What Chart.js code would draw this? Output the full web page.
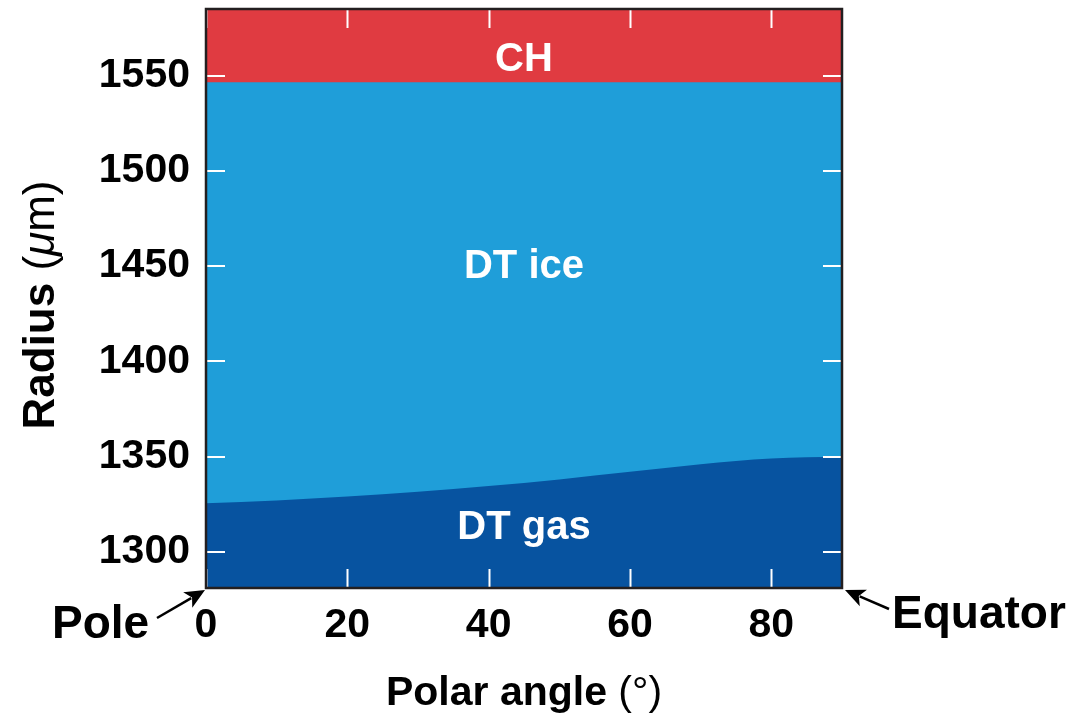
<!DOCTYPE html>
<html>
<head>
<meta charset="utf-8">
<script src="https://cdn.jsdelivr.net/npm/chart.js@4"></script>
<style>
  body { margin: 0; background: #ffffff; }
  #wrap { width: 1075px; height: 714px; position: relative; }
</style>
</head>
<body>
<div id="wrap"><canvas id="shell-chart"></canvas></div>
<script>
// polar angle (deg) and interface radii (um)
const angles = [0, 10, 20, 30, 40, 50, 60, 70, 80, 90];
const gasIceRadius = [1325.5, 1327, 1329, 1331.5, 1334.5, 1338, 1342, 1346, 1349, 1350];
const iceChRadius = [1546.5, 1546.5, 1546.5, 1546.5, 1546.5, 1546.5, 1546.5, 1546.5, 1546.5, 1546.5];
const chOuterRadius = [1590, 1590, 1590, 1590, 1590, 1590, 1590, 1590, 1590, 1590];

const xTicks = [0, 20, 40, 60, 80];
const yTicks = [1300, 1350, 1400, 1450, 1500, 1550];

const FONT = '"Liberation Sans", Arial, Helvetica, sans-serif';
const COL_CH = '#e03b41';
const COL_ICE = '#1f9ed9';
const COL_GAS = '#0753a0';

function toPoints(ys) {
    return angles.map((a, i) => ({ x: a, y: ys[i] }));
}

function layer(label, ys, color) {
    return {
        label: label,
        data: toPoints(ys),
        borderWidth: 0,
        borderColor: color,
        backgroundColor: color,
        pointRadius: 0,
        fill: 'start',
        tension: 0.4,
        cubicInterpolationMode: 'monotone'
    };
}

// 테두리, 안쪽 눈금, 글자, 화살표
const overlay = {
    id: 'overlay',
    afterDraw(chart) {
        const ctx = chart.ctx;
        const xs = chart.scales.x;
        const ys = chart.scales.y;
        const a = chart.chartArea;
        ctx.save();

        // inner white ticks on all four sides
        ctx.strokeStyle = '#ffffff';
        ctx.lineWidth = 2;
        const tl = 19;
        xTicks.forEach(v => {
            const px = Math.round(xs.getPixelForValue(v)) + 0.5;
            ctx.beginPath();
            ctx.moveTo(px, a.top); ctx.lineTo(px, a.top + tl);
            ctx.moveTo(px, a.bottom); ctx.lineTo(px, a.bottom - tl);
            ctx.stroke();
        });
        yTicks.forEach(v => {
            const py = Math.round(ys.getPixelForValue(v));
            ctx.beginPath();
            ctx.moveTo(a.left, py); ctx.lineTo(a.left + tl, py);
            ctx.moveTo(a.right, py); ctx.lineTo(a.right - tl, py);
            ctx.stroke();
        });

        // frame
        ctx.strokeStyle = '#231f20';
        ctx.lineWidth = 2.5;
        ctx.strokeRect(a.left, a.top, a.right - a.left, a.bottom - a.top);

        // region labels
        ctx.fillStyle = '#ffffff';
        ctx.font = 'bold 40px ' + FONT;
        ctx.textAlign = 'center';
        ctx.textBaseline = 'middle';
        ctx.fillText('CH', xs.getPixelForValue(45), ys.getPixelForValue(1558.5));
        ctx.fillText('DT ice', xs.getPixelForValue(45), ys.getPixelForValue(1449.3));
        ctx.fillText('DT gas', xs.getPixelForValue(45), ys.getPixelForValue(1312.3));

        // axis titles (bold word + regular unit)
        ctx.fillStyle = '#000000';
        ctx.textAlign = 'left';
        ctx.textBaseline = 'alphabetic';
        const cx = (a.left + a.right) / 2;
        ctx.font = 'bold 41px ' + FONT;
        const w1 = ctx.measureText('Polar angle ').width;
        ctx.font = '41px ' + FONT;
        const w2 = ctx.measureText('(°)').width;
        let sx = cx - (w1 + w2) / 2;
        ctx.font = 'bold 41px ' + FONT;
        ctx.fillText('Polar angle ', sx, 705);
        ctx.font = '41px ' + FONT;
        ctx.fillText('(°)', sx + w1, 705);

        ctx.save();
        ctx.translate(54, 305);
        ctx.rotate(-Math.PI / 2);
        ctx.font = 'bold 44px ' + FONT;
        const r1 = ctx.measureText('Radius ').width;
        ctx.font = '44px ' + FONT;
        const r2 = ctx.measureText('(').width;
        ctx.font = 'italic 44px ' + FONT;
        const r3 = ctx.measureText('\u03bc').width;
        ctx.font = '44px ' + FONT;
        const r4 = ctx.measureText('m)').width;
        let rx = -(r1 + r2 + r3 + r4) / 2;
        ctx.font = 'bold 44px ' + FONT;
        ctx.fillText('Radius ', rx, 0); rx += r1;
        ctx.font = '44px ' + FONT;
        ctx.fillText('(', rx, 0); rx += r2;
        ctx.font = 'italic 44px ' + FONT;
        ctx.fillText('\u03bc', rx, 0); rx += r3;
        ctx.font = '44px ' + FONT;
        ctx.fillText('m)', rx, 0);
        ctx.restore();

        // Pole / Equator callouts
        ctx.font = 'bold 46px ' + FONT;
        ctx.textAlign = 'left';
        ctx.fillText('Pole', 52, 638);
        ctx.fillText('Equator', 892, 628);
        arrow(ctx, 157, 618, a.left - 1, a.bottom + 2);
        arrow(ctx, 889, 609, a.right + 3, a.bottom + 2);

        ctx.restore();
    }
};

function arrow(ctx, x0, y0, x1, y1) {
    const ang = Math.atan2(y1 - y0, x1 - x0);
    const hl = 20, hw = 9;
    ctx.strokeStyle = '#000000';
    ctx.fillStyle = '#000000';
    ctx.lineWidth = 2.5;
    ctx.beginPath();
    ctx.moveTo(x0, y0);
    ctx.lineTo(x1 - hl * 0.8 * Math.cos(ang), y1 - hl * 0.8 * Math.sin(ang));
    ctx.stroke();
    ctx.beginPath();
    ctx.moveTo(x1, y1);
    ctx.lineTo(x1 - hl * Math.cos(ang) + hw * Math.sin(ang), y1 - hl * Math.sin(ang) - hw * Math.cos(ang));
    ctx.lineTo(x1 - hl * 0.75 * Math.cos(ang), y1 - hl * 0.75 * Math.sin(ang));
    ctx.lineTo(x1 - hl * Math.cos(ang) - hw * Math.sin(ang), y1 - hl * Math.sin(ang) + hw * Math.cos(ang));
    ctx.closePath();
    ctx.fill();
}

new Chart(document.getElementById('shell-chart'), {
    type: 'line',
    data: {
        datasets: [
            layer('DT gas', gasIceRadius, COL_GAS),
            layer('DT ice', iceChRadius, COL_ICE),
            layer('CH', chOuterRadius, COL_CH)
        ]
    },
    options: {
        responsive: true,
        maintainAspectRatio: false,
        animation: false,
        events: [],
        layout: { padding: { top: 9, right: 233, bottom: 0, left: 0 } },
        plugins: {
            legend: { display: false },
            tooltip: { enabled: false },
            title: { display: false }
        },
        scales: {
            x: {
                type: 'linear',
                min: 0,
                max: 90,
                grid: { display: false, drawTicks: false },
                border: { display: false },
                afterBuildTicks: s => { s.ticks = xTicks.map(v => ({ value: v })); },
                afterFit: s => { s.height = 126; s.paddingLeft = 0; s.paddingRight = 0; },
                ticks: {
                    color: '#000000',
                    padding: 13,
                    maxRotation: 0,
                    callback: v => String(v),
                    font: { family: FONT, size: 41, weight: 'bold' }
                }
            },
            y: {
                type: 'linear',
                min: 1281,
                max: 1585,
                grid: { display: false, drawTicks: false },
                border: { display: false },
                afterBuildTicks: s => { s.ticks = yTicks.map(v => ({ value: v })); },
                afterFit: s => { s.width = 206; s.paddingTop = 0; s.paddingBottom = 0; },
                ticks: {
                    color: '#000000',
                    padding: 16,
                    callback: v => String(v),
                    font: { family: FONT, size: 41, weight: 'bold' }
                }
            }
        }
    },
    plugins: [overlay]
});
</script>
</body>
</html>
